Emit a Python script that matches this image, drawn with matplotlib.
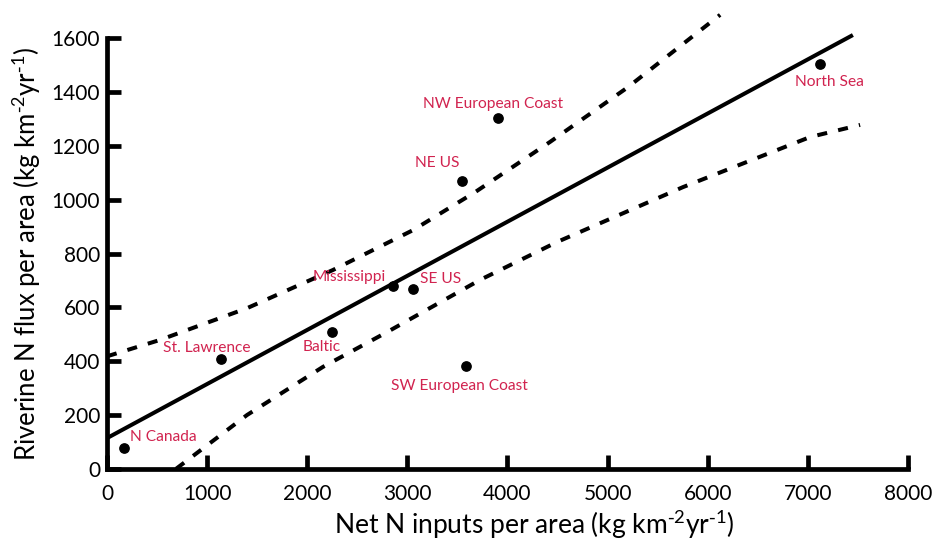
import numpy as np
import matplotlib
matplotlib.use("Agg")
import matplotlib.pyplot as plt

plt.rcParams['font.family'] = ['Lato', 'DejaVu Sans']
plt.rcParams['mathtext.default'] = 'regular'

# data points
regions = ['N Canada', 'St. Lawrence', 'Baltic', 'Mississippi', 'SE US',
           'NE US', 'NW European Coast', 'SW European Coast', 'North Sea']
n_inputs = [170, 1136, 2245, 2854, 3054, 3543, 3903, 3583, 7123]
n_flux = [76, 407, 507, 681, 667, 1071, 1303, 382, 1504]

# label centres
label_x = [560, 1000, 2148, 2423, 3332, 3297, 3856, 3516, 7213]
label_y = [118, 449, 452, 713, 706, 1137, 1356, 308, 1438]

# regression line end points
fit_x = [0, 7450]
fit_y = [114, 1612]

# confidence band
upper_x = [0, 530, 1399, 2258, 3057, 3676, 4426, 5195, 5894, 6124]
upper_y = [418, 479, 597, 739, 887, 1028, 1215, 1416, 1620, 1687]
lower_x = [690, 1399, 2158, 2797, 3726, 4496, 5754, 7023, 7522]
lower_y = [0, 200, 379, 508, 702, 843, 1047, 1233, 1278]

red = '#d1234f'

fig = plt.figure(figsize=(9.32, 5.45), dpi=100)
ax = fig.add_axes([0.1148, 0.1398, 0.8594, 0.79])

ax.plot(fit_x, fit_y, color='black', lw=2.9, clip_on=False, solid_capstyle='butt')
for xs, ys in [(upper_x, upper_y), (lower_x, lower_y)]:
    ax.plot(xs, ys, color='black', lw=2.9, ls=(0, (2.5, 2.8)),
            dash_capstyle='butt', clip_on=False)

ax.scatter(n_inputs, n_flux, s=45, color='black', zorder=3, clip_on=False)
for name, lx, ly in zip(regions, label_x, label_y):
    ax.text(lx, ly, name, color=red, fontsize=11.2, ha='center', va='center')

ax.set_xlim(0, 8000)
ax.set_ylim(0, 1600)
ax.set_xticks(np.arange(0, 8001, 1000))
ax.set_yticks(np.arange(0, 1601, 200))

for side in ['top', 'right']:
    ax.spines[side].set_visible(False)
for side in ['left', 'bottom']:
    ax.spines[side].set_linewidth(3.4)
ax.tick_params(direction='in', length=10, width=3.4, labelsize=15)
ax.tick_params(axis='x', pad=11)
ax.tick_params(axis='y', pad=5)

ax.set_xlabel('Net N inputs per area (kg km$^{\\text{-}2}$yr$^{\\text{-}1}$)',
              fontsize=19)
ax.xaxis.set_label_coords(0.533, -0.092)
ax.set_ylabel('Riverine N flux per area (kg km$^{\\text{-}2}$yr$^{\\text{-}1}$)',
              fontsize=18.5, labelpad=6)

fig.savefig('out.png', dpi=100)
